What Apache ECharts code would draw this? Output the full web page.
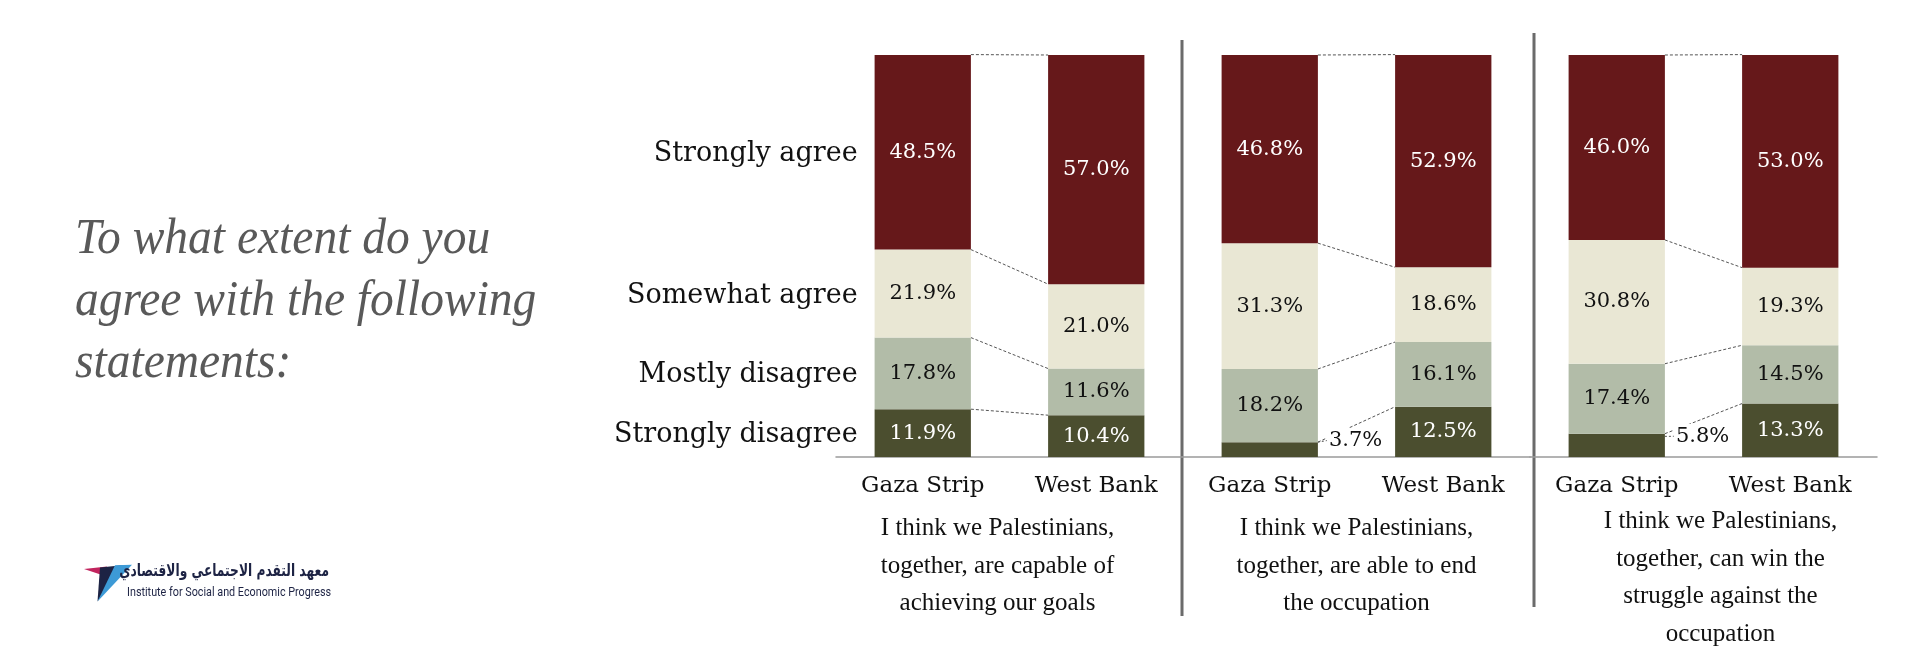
<!DOCTYPE html>
<html>
	<head>
		<meta charset="utf-8">
		<title>To what extent do you agree</title>
		<script src="https://cdn.jsdelivr.net/npm/echarts@6/dist/echarts.min.js"></script>
		<style>
			* {
				margin: 0;
				padding: 0;
			}
			body {
				background: #ffffff;
			}
		</style>
	</head>
	<body>
		<div id="main" style="width:1914px;height:668px;"></div>
		<script>
			// categories and answer levels (bottom of the stack first)
			let categories = ['Gaza Strip', 'West Bank'];
			let levels = ['Strongly disagree', 'Mostly disagree', 'Somewhat agree', 'Strongly agree'];
			let statements = [
				'I think we Palestinians,\ntogether, are capable of\nachieving our goals',
				'I think we Palestinians,\ntogether, are able to end\nthe occupation',
				'I think we Palestinians,\ntogether, can win the\nstruggle against the\noccupation'
			];
			// one pair [Gaza, West Bank] per statement
			let stronglyDisagree = [[11.9, 10.4], [3.7, 12.5], [5.8, 13.3]];
			let mostlyDisagree = [[17.8, 11.6], [18.2, 16.1], [17.4, 14.5]];
			let somewhatAgree = [[21.9, 21.0], [31.3, 18.6], [30.8, 19.3]];
			let stronglyAgree = [[48.5, 57.0], [46.8, 52.9], [46.0, 53.0]];

			let levelData = [stronglyDisagree, mostlyDisagree, somewhatAgree, stronglyAgree];
			let myColor = ['#4b4e2f', '#b2bca8', '#e9e7d4', '#66181a'];
			let labelColor = ['#ffffff', '#111111', '#111111', '#ffffff'];
			let barRatio = 0.555;
			let serif = '"DejaVu Serif", serif';

			let myChart = echarts.init(document.getElementById('main'));

			let grids = [];
			let xAxes = [];
			let yAxes = [];
			let series = [];
			let nameGaps = [53, 53, 45];
			let namePads = [[0, 24, 0, 0], [0, 0, 0, 0], [0, 0, 0, 34]];

			function cumulative(p, side) {
				let out = [];
				let s = 0;
				levelData.forEach(arr => {
					let lo = s;
					s += arr[p][side];
					out.push([lo, s]);
				});
				return out;
			}

			for (let p = 0; p < 3; p++) {
				grids.push({ left: 836 + p * 347, width: 347, top: 55, bottom: 211 });
				xAxes.push({
					type: 'category',
					gridIndex: p,
					data: categories,
					axisLine: { lineStyle: { color: '#9a9a9a', width: 1.5 } },
					axisTick: { show: false },
					axisLabel: { color: '#111', fontFamily: serif, fontSize: 23, margin: 18 },
					name: statements[p],
					nameLocation: 'middle',
					nameGap: nameGaps[p],
					nameTextStyle: {
						color: '#111',
						fontFamily: '"Liberation Serif", "Times New Roman", serif',
						fontSize: 25,
						lineHeight: 37.5,
						padding: namePads[p]
					}
				});
				yAxes.push({ type: 'value', gridIndex: p, min: 0, max: 100, show: false });

				levelData.forEach((arr, k) => {
					series.push({
						name: levels[k],
						type: 'bar',
						xAxisIndex: p,
						yAxisIndex: p,
						stack: 'panel' + p,
						barWidth: (barRatio * 100) + '%',
						z: 3,
						itemStyle: { color: myColor[k] },
						label: {
							show: true,
							position: 'inside',
							color: labelColor[k],
							fontFamily: serif,
							fontSize: 21,
							formatter: (v) => v.value.toFixed(1) + '%'
						},
						labelLayout: function(params) {
							let v = arr[p][params.dataIndex];
							return v < 8 ? { dx: 9, dy: -9 } : {};
						},
						data: arr[p].map(v => {
							if (v < 8) {
								return {
									value: v,
									label: { position: 'right', distance: 0, color: '#111', backgroundColor: '#fff', padding: [2, 2] },
									labelLine: { show: true, lineStyle: { color: '#555', width: 1, type: [2, 2] } }
								};
							}
							return v;
						})
					});
				});

				// dashed connectors between the two stacks
				let cg = cumulative(p, 0);
				let cw = cumulative(p, 1);
				series.push({
					type: 'custom',
					xAxisIndex: p,
					yAxisIndex: p,
					z: 1,
					silent: true,
					encode: { x: 0, y: [1, 2] },
					data: cg.map((c, k) => [0, c[1], cw[k][1]]),
					renderItem: function(params, api) {
						let half = api.size([1, 0])[0] * barRatio / 2;
						let a = api.coord([0, api.value(1)]);
						let b = api.coord([1, api.value(2)]);
						return {
							type: 'line',
							shape: { x1: a[0] + half, y1: a[1], x2: b[0] - half, y2: b[1] },
							style: { stroke: '#555', lineWidth: 1, lineDash: [3, 2] }
						};
					}
				});

				// answer names next to the first stack
				if (p === 0) {
					series.push({
						type: 'custom',
						xAxisIndex: 0,
						yAxisIndex: 0,
						silent: true,
						encode: { x: 0, y: [1, 2] },
						data: cg.map(c => [0, c[0], c[1]]),
						renderItem: function(params, api) {
							let half = api.size([1, 0])[0] * barRatio / 2;
							let a = api.coord([0, api.value(1)]);
							let b = api.coord([0, api.value(2)]);
							return {
								type: 'text',
								style: {
									text: levels[params.dataIndex],
									x: a[0] - half - 17,
									y: (a[1] + b[1]) / 2 + 2,
									align: 'right',
									verticalAlign: 'middle',
									fill: '#111',
									font: '27px ' + serif
								}
							};
						}
					});
				}
			}

			let option = {
				backgroundColor: '#ffffff',
				animation: false,
				grid: grids,
				xAxis: xAxes,
				yAxis: yAxes,
				series: series,
				graphic: [
					{
						type: 'text',
						x: 75,
						y: 209,
						scaleX: 0.95,
						style: {
							text: 'To what extent do you\nagree with the following\nstatements:',
							x: 0,
							y: 0,
							fill: '#595959',
							font: 'italic 50px "Liberation Serif", serif',
							lineHeight: 62
						}
					},
					{
						type: 'line',
						shape: { x1: 1182, y1: 40, x2: 1182, y2: 616 },
						style: { stroke: '#6b6b6b', lineWidth: 3 }
					},
					{
						type: 'line',
						shape: { x1: 1534, y1: 33, x2: 1534, y2: 607 },
						style: { stroke: '#6b6b6b', lineWidth: 3 }
					},
					// logo
					{
						type: 'polygon',
						shape: { points: [[84, 569], [107, 566.5], [102, 575]] },
						style: { fill: '#c2245e' }
					},
					{
						type: 'polygon',
						shape: { points: [[100, 567.5], [122, 565.3], [97.5, 601.5]] },
						style: { fill: '#1d2344' }
					},
					{
						type: 'polygon',
						shape: { points: [[115, 565.3], [132, 564.7], [97.5, 601.5]] },
						style: { fill: '#3d9ad6' }
					},
					{
						type: 'text',
						x: 329,
						y: 572,
						scaleX: 0.72,
						style: {
							text: 'معهد التقدم الاجتماعي والاقتصادي',
							x: 0,
							y: 0,
							align: 'right',
							verticalAlign: 'middle',
							fill: '#1d2344',
							font: 'bold 17px "DejaVu Sans", sans-serif'
						}
					},
					{
						type: 'text',
						x: 127,
						y: 593,
						scaleX: 0.83,
						style: {
							text: 'Institute for Social and Economic Progress',
							x: 0,
							y: 0,
							verticalAlign: 'middle',
							fill: '#1d2344',
							font: '13px Roboto, sans-serif'
						}
					}
				]
			};
			myChart.setOption(option);
		</script>
	</body>
</html>
